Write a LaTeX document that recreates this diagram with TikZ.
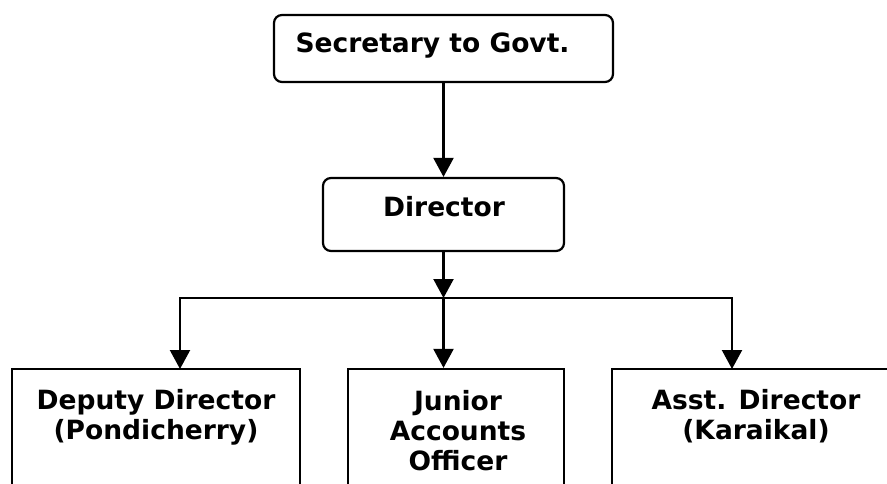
\documentclass[tikz,border=0pt]{standalone}
\usepackage{fontspec}
\setmainfont{DejaVu Sans}
\usetikzlibrary{arrows.meta}
\begin{document}
\begin{tikzpicture}[x=1pt,y=-1pt,
  box/.style={draw, line width=2.2pt, inner sep=0pt},
  rbox/.style={box, rounded corners=8pt},
  lbl/.style={font=\fontsize{26.5}{30}\selectfont\bfseries, align=center, inner sep=0pt, anchor=base},
  arr/.style={line width=2.2pt, -{Triangle[length=19pt,width=20pt]}}]
\useasboundingbox (0,0) rectangle (887,484);
\clip (0,0) rectangle (887,484);
% boxes
\node[rbox, minimum width=339pt, minimum height=67pt] (sec) at (443.5,48.5) {};
\node[rbox, minimum width=241pt, minimum height=73pt] (dir) at (443.5,214.5) {};
\node[box, minimum width=288pt, minimum height=200pt] (dd) at (156,469) {};
\node[box, minimum width=216pt, minimum height=200pt] (jao) at (456,469) {};
\node[box, minimum width=288pt, minimum height=200pt] (aad) at (756,469) {};
% texts
\node[lbl] (sect) at (432.5,53) {Secretary to Govt.};
\node[lbl] (dirt) at (444,217) {Director};
\node[lbl] (ddt) at (156,439) {Deputy Director\\(Pondicherry)};
\node[lbl] (jaot) at (458,470) {Junior\\Accounts\\Officer};
\node[lbl] (aadt) at (756,439) {Asst. Director\\(Karaikal)};
% connectors
\coordinate (split) at (443.5,298);
\coordinate (ddtop) at (180,369);
\coordinate (aadtop) at (732,369);
\draw[arr] (sec.south) -- (dir.north);
\draw[arr] (dir.south) -- (split);
\draw[arr] (split) -| (ddtop);
\draw[arr] (split) -| (aadtop);
\draw[arr] (split) -- (jao.north -| split);
\end{tikzpicture}
\end{document}
